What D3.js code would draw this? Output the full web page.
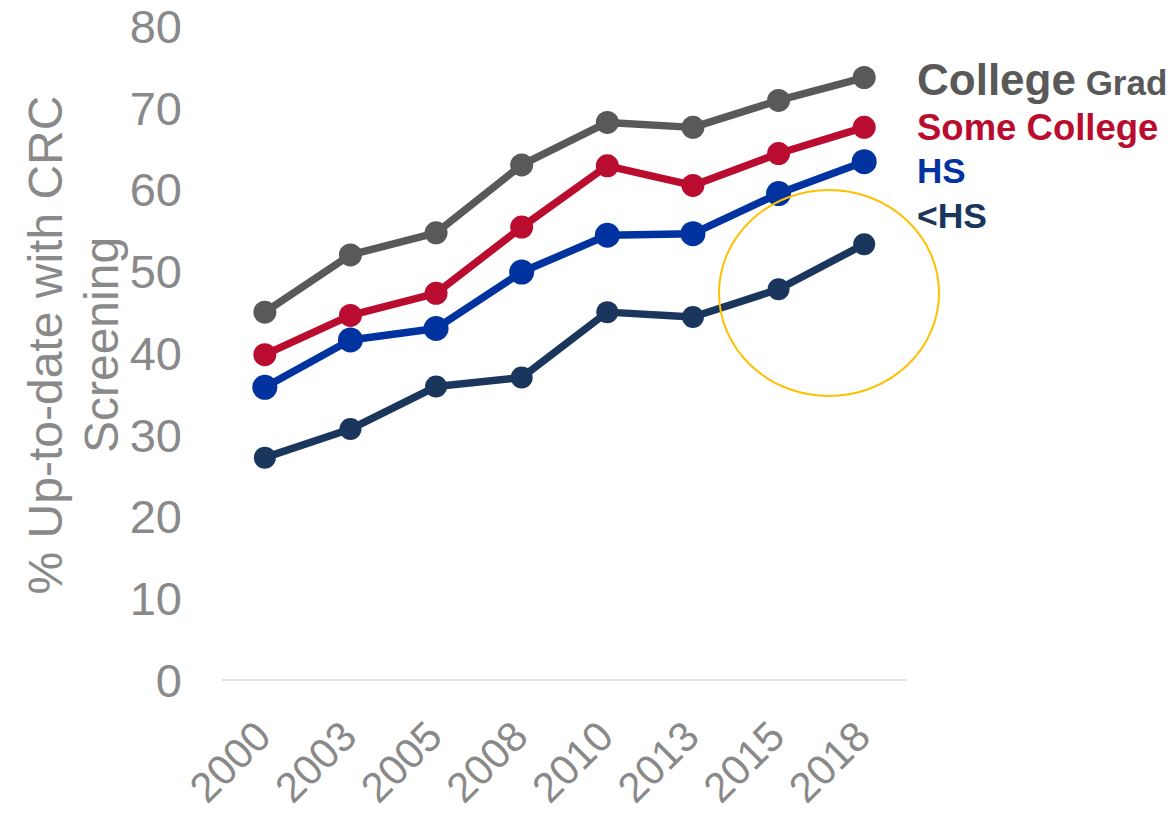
<!DOCTYPE html>
<html>
<head>
<meta charset="utf-8">
<script src="https://cdn.jsdelivr.net/npm/d3@7"></script>
<style>
  html, body { margin: 0; padding: 0; background: #ffffff; }
  svg { display: block; font-family: "Liberation Sans", Arial, sans-serif; }
</style>
</head>
<body>
<svg id="chart" width="1171" height="815"></svg>
<script>
const years = ["2000", "2003", "2005", "2008", "2010", "2013", "2015", "2018"];
const collegeGrad = [45.0, 52.0, 54.7, 63.0, 68.2, 67.6, 70.9, 73.7];
const someCollege = [39.8, 44.6, 47.3, 55.4, 62.9, 60.5, 64.4, 67.6];
const hs = [35.8, 41.6, 43.0, 49.9, 54.4, 54.6, 59.5, 63.4];
const lessHs = [27.2, 30.7, 35.9, 37.0, 45.0, 44.4, 47.8, 53.3];
const yTicks = [0, 10, 20, 30, 40, 50, 60, 70, 80];
const seriesNames = ["College Grad", "Some College", "HS", "<HS"];

const series = [
  { name: seriesNames[0], values: collegeGrad, color: "#595959", r: 11.5 },
  { name: seriesNames[1], values: someCollege, color: "#BA0C2F", r: 11.5 },
  { name: seriesNames[2], values: hs, color: "#0033A0", r: 12.5 },
  { name: seriesNames[3], values: lessHs, color: "#1B365D", r: 11 }
];

const svg = d3.select("#chart");
const x = d3.scalePoint().domain(years).range([222, 907]).padding(0.5);
const y = d3.scaleLinear().domain([0, 80]).range([680, 26]);
const gray = "#898989";

// baseline axis line
svg.append("line")
  .attr("x1", 222).attr("x2", 907)
  .attr("y1", y(0)).attr("y2", y(0))
  .attr("stroke", "#d9d9d9").attr("stroke-width", 1.5);

// y axis tick labels
const yAxis = d3.axisLeft(y).tickValues(yTicks).tickSize(0).tickPadding(0);
const gy = svg.append("g").attr("transform", "translate(182,0)").call(yAxis);
gy.select(".domain").remove();
gy.selectAll("text")
  .attr("fill", gray)
  .attr("font-size", 47)
  .attr("font-family", "Liberation Sans, Arial, sans-serif")
  .attr("x", 0).attr("dy", "0.35em");

// x axis tick labels
const xAxis = d3.axisBottom(x).tickSize(0).tickPadding(0);
const gx = svg.append("g").attr("transform", "translate(0,680)").call(xAxis);
gx.select(".domain").remove();
gx.selectAll("text")
  .attr("fill", gray)
  .attr("font-size", 42)
  .attr("font-family", "Liberation Sans, Arial, sans-serif")
  .attr("text-anchor", "end")
  .attr("y", 0).attr("dy", 0)
  .attr("transform", "translate(8,59) rotate(-45)");

// y axis title
const title = svg.append("g").attr("transform", "translate(0,345) rotate(-90)");
title.append("text")
  .attr("x", 0).attr("y", 62)
  .attr("text-anchor", "middle")
  .attr("fill", gray).attr("font-size", 48)
  .text("% Up-to-date with CRC");
title.append("text")
  .attr("x", 0).attr("y", 118)
  .attr("text-anchor", "middle")
  .attr("fill", gray).attr("font-size", 48)
  .text("Screening");

// lines and markers
const line = d3.line().x((d, i) => x(years[i])).y(d => y(d));
series.forEach(s => {
  svg.append("path")
    .datum(s.values)
    .attr("d", line)
    .attr("fill", "none")
    .attr("stroke", s.color)
    .attr("stroke-width", 7.5)
    .attr("stroke-linejoin", "round");
  svg.append("g").selectAll("circle")
    .data(s.values)
    .join("circle")
    .attr("cx", (d, i) => x(years[i]))
    .attr("cy", d => y(d))
    .attr("r", s.r)
    .attr("fill", s.color);
});

// highlight ellipse
svg.append("ellipse")
  .attr("cx", 829).attr("cy", 293)
  .attr("rx", 110).attr("ry", 103)
  .attr("fill", "none")
  .attr("stroke", "#FFC000")
  .attr("stroke-width", 2);

// legend labels
const lg = svg.append("g").attr("font-weight", "bold");
const t0 = lg.append("text").attr("x", 917).attr("y", 95).attr("fill", series[0].color);
t0.append("tspan").attr("font-size", 44).text("College");
t0.append("tspan").attr("font-size", 35).text(" Grad");
lg.append("text").attr("x", 917).attr("y", 140).attr("fill", series[1].color)
  .attr("font-size", 36.5).text(seriesNames[1]);
lg.append("text").attr("x", 917).attr("y", 183).attr("fill", series[2].color)
  .attr("font-size", 35).text(seriesNames[2]);
lg.append("text").attr("x", 917).attr("y", 228).attr("fill", series[3].color)
  .attr("font-size", 35.5).text(seriesNames[3]);
</script>
</body>
</html>
